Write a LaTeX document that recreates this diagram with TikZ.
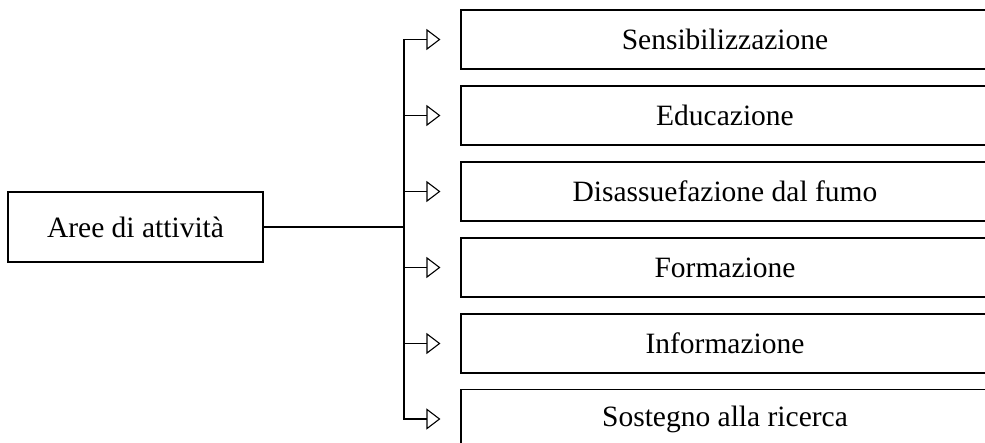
\documentclass[tikz,border=0pt]{standalone}
\usepackage{fontspec}
\setmainfont{Liberation Serif}
\usetikzlibrary{arrows.meta}
\begin{document}
\begin{tikzpicture}[x=1pt,y=-1pt,
  every node/.style={font=\fontsize{29.5}{35}\selectfont},
  line/.style={draw=black,line width=1.1pt},
  rootbox/.style={line,minimum width=255pt,minimum height=70pt,inner sep=0pt},
  areabox/.style={line,minimum width=528pt,minimum height=59pt,inner sep=0pt},
  branch/.style={line,-{Triangle[open,length=14pt,width=21pt,line width=1.1pt]}}]
  \useasboundingbox (0,0) rectangle (985,443);
  \clip (0,0) rectangle (985,443);
  % root box and the junction on the trunk
  \node[rootbox] (root) at (135.5,227) {Aree di attività};
  \coordinate (trunk) at (404,227);
  \draw[line] (root.east) -- (trunk);
  % activity boxes
  \node[areabox] (b1) at (725,39.5)  {Sensibilizzazione};
  \node[areabox] (b2) at (725,115.5) {Educazione};
  \node[areabox] (b3) at (725,191.5) {Disassuefazione dal fumo};
  \node[areabox] (b4) at (725,267.5) {Formazione};
  \node[areabox] (b5) at (725,343.5) {Informazione};
  \node[areabox] (b6) at (725,419)   {Sostegno alla ricerca};
  % branches from the trunk to each box
  \foreach \b in {b1,b2,b3,b4,b5,b6}
    \draw[branch] (trunk) |- ([xshift=-20pt]\b.west);
\end{tikzpicture}
\end{document}
